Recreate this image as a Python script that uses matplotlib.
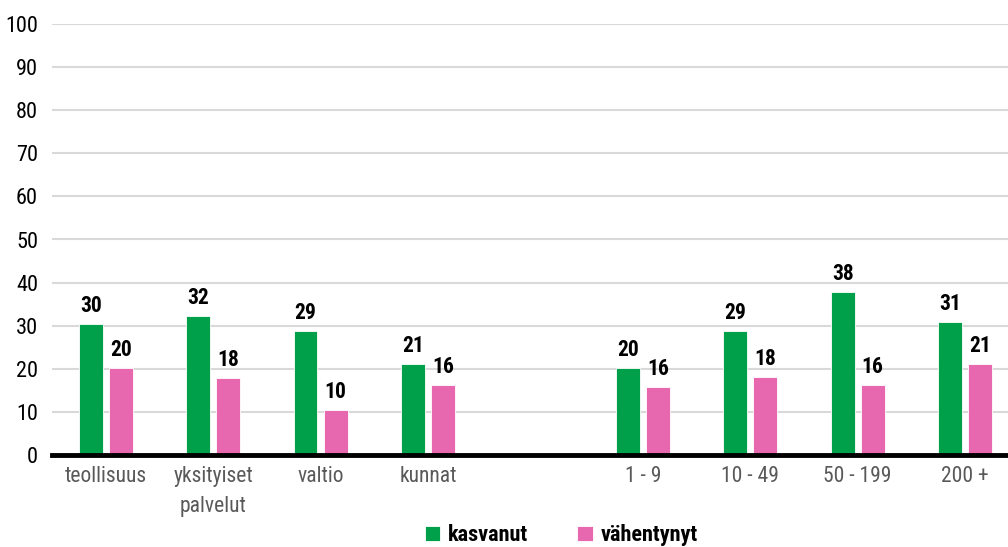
import matplotlib
matplotlib.use("Agg")
import matplotlib.pyplot as plt
import numpy as np
from matplotlib import font_manager

names = {f.name for f in font_manager.fontManager.ttflist}
fam = [n for n in ["Liberation Sans Narrow", "DejaVu Sans Condensed", "Roboto Condensed", "Open Sans"] if n in names]
plt.rcParams['font.family'] = fam + ['DejaVu Sans']

categories = ["teollisuus", "yksityiset\npalvelut", "valtio", "kunnat", "", "1 - 9", "10 - 49", "50 - 199", "200 +"]
kasvanut = [30.4, 32.3, 28.8, 21.1, None, 20.2, 28.7, 37.8, 30.9]
vahentynyt = [20.2, 17.9, 10.4, 16.2, None, 15.8, 18.1, 16.3, 21.1]
series_names = ["kasvanut", "vähentynyt"]
colors = ["#00A04B", "#E868AF"]

fig = plt.figure(figsize=(10.08, 5.47), dpi=100)
ax = fig.add_axes([52/1008, 1-455/547, 1-52/1008, (455-24)/547])

x = np.arange(len(categories))
w = 0.223
off = 0.14
for vals, dx, c, nm in [(kasvanut, -off, colors[0], series_names[0]), (vahentynyt, off, colors[1], series_names[1])]:
    xs = [xi + dx for xi, v in zip(x, vals) if v is not None]
    vs = [v for v in vals if v is not None]
    bars = ax.bar(xs, vs, width=w, color=c, edgecolor="white", linewidth=0.6, label=nm, zorder=3)
    for b, v in zip(bars, vs):
        ax.text(b.get_x() + b.get_width()/2, v + 1.6, f"{round(v):d}", ha="center", va="bottom",
                fontsize=15.5, fontweight="bold", color="black", zorder=4)

ax.set_ylim(0, 100)
ax.set_xlim(-0.5, 8.4)
ax.set_yticks(range(0, 101, 10))
ax.yaxis.grid(True, color="#D9D9D9", linewidth=1.5, zorder=0)
ax.set_axisbelow(True)
for s in ["top", "right", "left"]:
    ax.spines[s].set_visible(False)
ax.spines["bottom"].set_linewidth(3.5)
ax.spines["bottom"].set_color("black")
ax.spines["bottom"].set_zorder(5)
ax.tick_params(axis="y", length=0, labelsize=16, labelcolor="black", pad=10)
ax.tick_params(axis="x", length=0, labelsize=15.5, labelcolor="#595959", pad=8)
ax.set_xticks(x)
ax.set_xticklabels(categories, linespacing=1.55)

leg = fig.legend(loc="lower center", bbox_to_anchor=(0.557, -0.035), ncol=2, frameon=False,
                 prop={"size": 16, "weight": "bold"}, handlelength=0.7, handleheight=0.7,
                 handletextpad=0.35, columnspacing=2.2)

fig.savefig("out.png", dpi=100)
